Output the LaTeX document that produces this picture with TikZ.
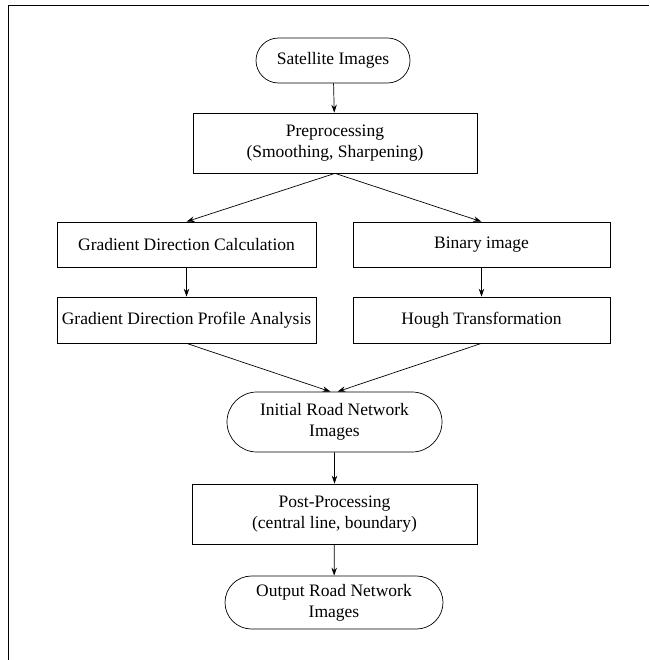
\documentclass[tikz,border=0pt]{standalone}
\usepackage{fontspec}
\setmainfont{Liberation Serif}
\usetikzlibrary{arrows.meta,shapes.misc}
\tikzset{
  stepbox/.style={draw,rectangle,align=center,inner sep=0pt},
  termbox/.style={draw,rounded rectangle,align=center,inner sep=0pt},
  flow/.style={-{Stealth[length=8pt,width=5.5pt]}}
}
\begin{document}
\begin{tikzpicture}[x=1pt,y=-1pt,line width=0.7pt,
  font=\fontsize{17.5}{21}\selectfont]
  \useasboundingbox (0,0) rectangle (649,660);
  % frame
  \draw (8,660) -- (8,5) -- (649,5);
  % boxes
  \node[termbox,minimum width=154pt,minimum height=45pt] (sat) at (333,60.5) {Satellite Images};
  \node[stepbox,minimum width=284pt,minimum height=60pt] (pre) at (335,143) {Preprocessing\\(Smoothing, Sharpening)};
  \node[stepbox,minimum width=259pt,minimum height=45pt] (gdc) at (186.5,244.5) {Gradient Direction Calculation};
  \node[stepbox,minimum width=257pt,minimum height=45pt] (bin) at (481.5,244.5) {Binary image};
  \node[stepbox,minimum width=259pt,minimum height=46pt] (gdp) at (186.5,320) {Gradient Direction Profile Analysis};
  \node[stepbox,minimum width=257pt,minimum height=46pt] (hough) at (481.5,320) {Hough Transformation};
  \node[termbox,minimum width=215pt,minimum height=60pt] (init) at (334.5,422) {Initial Road Network\\Images};
  \node[stepbox,minimum width=285pt,minimum height=60pt] (post) at (334.5,514) {Post-Processing\\(central line, boundary)};
  \node[termbox,minimum width=218pt,minimum height=53pt] (out) at (334,602.5) {Output Road Network\\Images};
  % connectors
  \draw[flow] (sat) -- (pre);
  \draw[flow] (pre.south) -- (gdc.north);
  \draw[flow] (pre.south) -- (bin.north);
  \draw[flow] (gdc) -- (gdp);
  \draw[flow] (bin) -- (hough);
  \draw[flow] (gdp.south) -- ([xshift=-4pt]init.north);
  \draw[flow] (hough.south) -- ([xshift=3pt]init.north);
  \draw[flow] (init) -- (post);
  \draw[flow] (post) -- (out);
\end{tikzpicture}
\end{document}
